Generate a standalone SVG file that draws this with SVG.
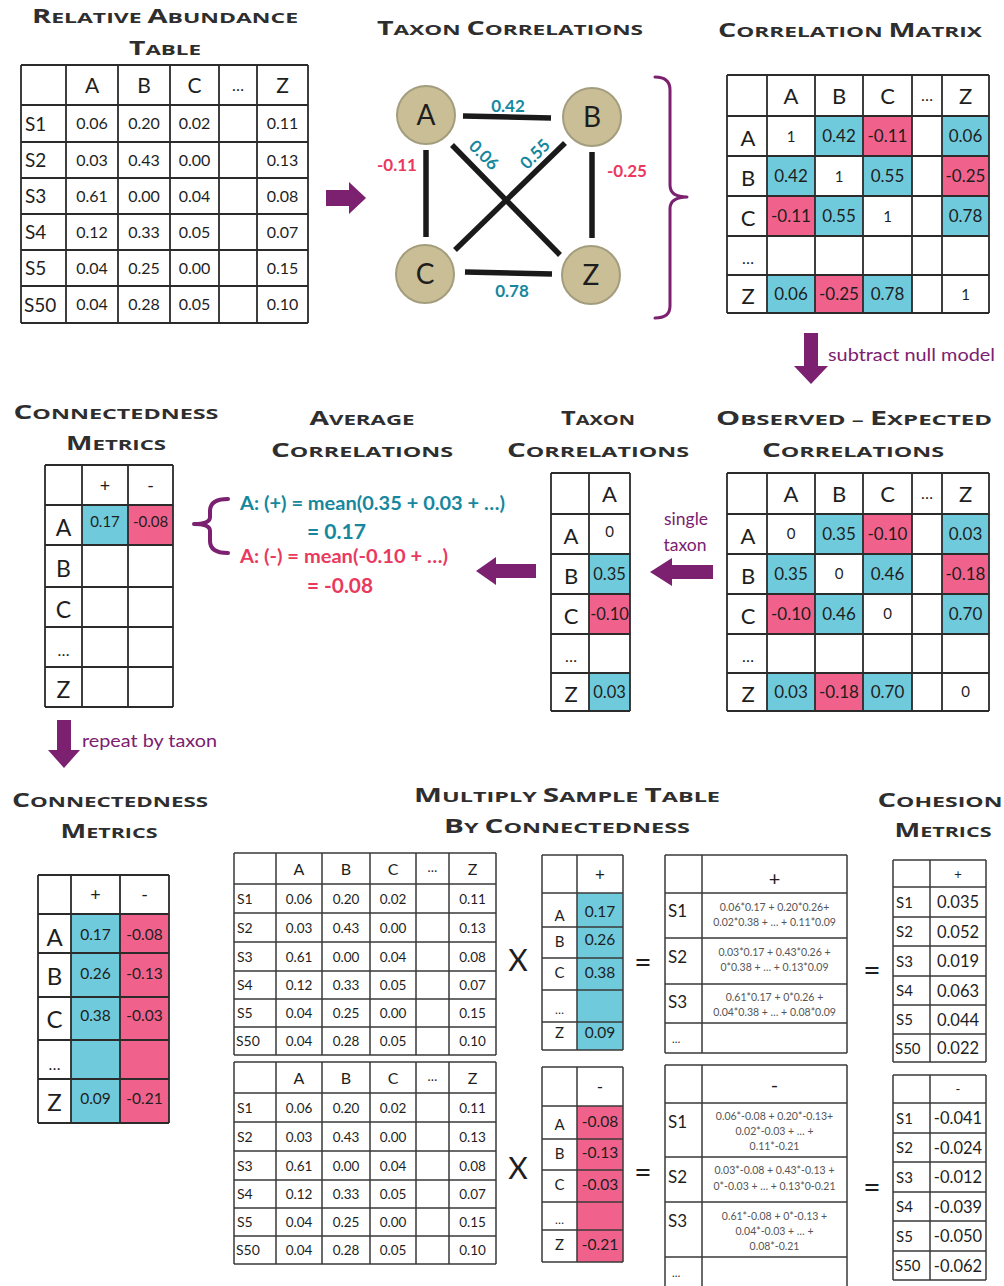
<svg xmlns="http://www.w3.org/2000/svg" width="1004" height="1286" viewBox="0 0 1004 1286">
<style>
text { font-family: Lato, "Open Sans", "DejaVu Sans", sans-serif; fill:#1e1e1e; }
.ttl { font-family: "Open Sans", "DejaVu Sans", sans-serif; font-weight:700; font-size:15px; fill:#2e2e2e; text-anchor:middle; }
.ttl tspan.b { font-size:19px; }
.c { text-anchor:middle; }
.grid { fill:none; stroke:#2b2b2b; stroke-width:1.8; }
.grid2 { fill:none; stroke:#3a3a3a; stroke-width:1.5; }
.bl { fill:#6fcadc; }
.pk { fill:#f0628c; }
.pur { fill:#7b2170; }
.brace { fill:none; stroke:#7b2170; stroke-linecap:round; stroke-linejoin:round; }
.teal { fill:#16879d; font-weight:bold; }
.red { fill:#e9395f; font-weight:bold; }
.edge { stroke:#1a1a1a; stroke-width:5.5; }
.node { fill:#c9be96; stroke:#a39d7d; stroke-width:2; }
.f { font-size:10.5px; fill:#555; text-anchor:middle; }
</style>

<!-- Titles -->
<g id="titles">
<text class="ttl" x="165" y="23" textLength="266" lengthAdjust="spacingAndGlyphs"><tspan class="b">R</tspan>ELATIVE <tspan class="b">A</tspan>BUNDANCE</text>
<text class="ttl" x="165" y="55" textLength="72" lengthAdjust="spacingAndGlyphs"><tspan class="b">T</tspan>ABLE</text>
<text class="ttl" x="510" y="35" textLength="266" lengthAdjust="spacingAndGlyphs"><tspan class="b">T</tspan>AXON <tspan class="b">C</tspan>ORRELATIONS</text>
<text class="ttl" x="850" y="37" textLength="264" lengthAdjust="spacingAndGlyphs"><tspan class="b">C</tspan>ORRELATION <tspan class="b">M</tspan>ATRIX</text>
<text class="ttl" x="854" y="425" textLength="276" lengthAdjust="spacingAndGlyphs"><tspan class="b">O</tspan>BSERVED – <tspan class="b">E</tspan>XPECTED</text>
<text class="ttl" x="853" y="457" textLength="182" lengthAdjust="spacingAndGlyphs"><tspan class="b">C</tspan>ORRELATIONS</text>
<text class="ttl" x="598" y="425" textLength="74" lengthAdjust="spacingAndGlyphs"><tspan class="b">T</tspan>AXON</text>
<text class="ttl" x="598" y="457" textLength="182" lengthAdjust="spacingAndGlyphs"><tspan class="b">C</tspan>ORRELATIONS</text>
<text class="ttl" x="362" y="425" textLength="105" lengthAdjust="spacingAndGlyphs"><tspan class="b">A</tspan>VERAGE</text>
<text class="ttl" x="362" y="457" textLength="182" lengthAdjust="spacingAndGlyphs"><tspan class="b">C</tspan>ORRELATIONS</text>
<text class="ttl" x="116" y="419" textLength="205" lengthAdjust="spacingAndGlyphs"><tspan class="b">C</tspan>ONNECTEDNESS</text>
<text class="ttl" x="116" y="450" textLength="100" lengthAdjust="spacingAndGlyphs"><tspan class="b">M</tspan>ETRICS</text>
<text class="ttl" x="110" y="807" textLength="196" lengthAdjust="spacingAndGlyphs"><tspan class="b">C</tspan>ONNECTEDNESS</text>
<text class="ttl" x="109" y="838" textLength="97" lengthAdjust="spacingAndGlyphs"><tspan class="b">M</tspan>ETRICS</text>
<text class="ttl" x="567" y="802" textLength="306" lengthAdjust="spacingAndGlyphs"><tspan class="b">M</tspan>ULTIPLY <tspan class="b">S</tspan>AMPLE <tspan class="b">T</tspan>ABLE</text>
<text class="ttl" x="567" y="833" textLength="246" lengthAdjust="spacingAndGlyphs"><tspan class="b">B</tspan>Y <tspan class="b">C</tspan>ONNECTEDNESS</text>
<text class="ttl" x="940" y="807" textLength="125" lengthAdjust="spacingAndGlyphs"><tspan class="b">C</tspan>OHESION</text>
<text class="ttl" x="943" y="837" textLength="97" lengthAdjust="spacingAndGlyphs"><tspan class="b">M</tspan>ETRICS</text>
</g>

<!-- Relative abundance table -->
<g id="rel-abundance-table">
<rect x="21" y="65" width="287" height="258" fill="#fff"/>
<path class="grid" d="M21,65H308M21,105H308M21,142H308M21,178H308M21,214H308M21,250H308M21,286H308M21,323H308M21,65V323M66,65V323M118,65V323M170,65V323M219,65V323M257,65V323M308,65V323"/>
<g font-size="21">
<text class="c" x="92" y="93">A</text><text class="c" x="144" y="93">B</text><text class="c" x="194.5" y="93">C</text><text class="c" x="238" y="91" font-size="16">…</text><text class="c" x="282.5" y="93">Z</text>
</g>
<g font-size="19">
<text x="25" y="130.5">S1</text><text x="25" y="167">S2</text><text x="25" y="203">S3</text><text x="25" y="239">S4</text><text x="25" y="275">S5</text><text x="24" y="311.5">S50</text>
</g>
<g font-size="16" fill="#333">
<text class="c" x="92" y="129">0.06</text><text class="c" x="144" y="129">0.20</text><text class="c" x="194.5" y="129">0.02</text><text class="c" x="282.5" y="129">0.11</text>
<text class="c" x="92" y="165.5">0.03</text><text class="c" x="144" y="165.5">0.43</text><text class="c" x="194.5" y="165.5">0.00</text><text class="c" x="282.5" y="165.5">0.13</text>
<text class="c" x="92" y="201.5">0.61</text><text class="c" x="144" y="201.5">0.00</text><text class="c" x="194.5" y="201.5">0.04</text><text class="c" x="282.5" y="201.5">0.08</text>
<text class="c" x="92" y="237.5">0.12</text><text class="c" x="144" y="237.5">0.33</text><text class="c" x="194.5" y="237.5">0.05</text><text class="c" x="282.5" y="237.5">0.07</text>
<text class="c" x="92" y="273.5">0.04</text><text class="c" x="144" y="273.5">0.25</text><text class="c" x="194.5" y="273.5">0.00</text><text class="c" x="282.5" y="273.5">0.15</text>
<text class="c" x="92" y="310">0.04</text><text class="c" x="144" y="310">0.28</text><text class="c" x="194.5" y="310">0.05</text><text class="c" x="282.5" y="310">0.10</text>
</g>
</g>

<!-- Network -->
<g id="network-edges">
<line class="edge" x1="463" y1="116" x2="551" y2="118"/>
<line class="edge" x1="465" y1="272" x2="552" y2="274"/>
<line class="edge" x1="426" y1="150" x2="426" y2="237"/>
<line class="edge" x1="592" y1="152" x2="592" y2="238"/>
<line class="edge" x1="452" y1="145" x2="560" y2="255"/>
<line class="edge" x1="565" y1="143" x2="455" y2="250"/>
<text class="c teal" x="508" y="112" font-size="17">0.42</text>
<text class="c teal" x="512" y="297" font-size="17">0.78</text>
<text class="c red" x="397" y="171" font-size="17">-0.11</text>
<text class="c red" x="627" y="177" font-size="17">-0.25</text>
<text class="c teal" font-size="17" transform="translate(484,155) rotate(45)" y="6">0.06</text>
<text class="c teal" font-size="17" transform="translate(535,154) rotate(-45)" y="6">0.55</text>
</g>
<g id="node-A"><circle class="node" cx="426" cy="115" r="29"/><text class="c" x="426" y="125" font-size="28">A</text></g>
<g id="node-B"><circle class="node" cx="592" cy="117" r="29"/><text class="c" x="592" y="127" font-size="28">B</text></g>
<g id="node-C"><circle class="node" cx="425" cy="274" r="29"/><text class="c" x="425" y="284" font-size="28">C</text></g>
<g id="node-Z"><circle class="node" cx="591" cy="275" r="29"/><text class="c" x="591" y="285" font-size="28">Z</text></g>

<!-- Connectors / arrows / braces -->
<g id="connectors">
<polygon class="pur" points="326,190 349,190 349,182 366,198 349,214 349,206 326,206"/>
<path class="brace" stroke-width="3" d="M655,77 Q670,77 670,90 L670,185 Q670,197 687,197 Q670,197 670,209 L670,306 Q670,318 655,318"/>
<polygon class="pur" points="804,333 818,333 818,366 828,366 811,384 794,366 804,366"/>
<text x="828" y="361" font-size="17.5" style="fill:#7b2170" textLength="167" lengthAdjust="spacingAndGlyphs">subtract null model</text>
<polygon class="pur" points="713,565 672,565 672,558 650,572 672,586 672,579 713,579"/>
<text class="c" x="686" y="525" font-size="17.5" style="fill:#7b2170">single</text>
<text class="c" x="685" y="551" font-size="17.5" style="fill:#7b2170">taxon</text>
<polygon class="pur" points="536,564 496,564 496,557 476,571 496,585 496,578 536,578"/>
<path class="brace" stroke-width="4" d="M228,499 Q210,499 210,511 L210,517 Q210,524 194,524 Q210,524 210,531 L210,541 Q210,553 228,553"/>
<polygon class="pur" points="57,720 71,720 71,750 80,750 64,768 48,750 57,750"/>
<text x="82" y="747" font-size="17.5" style="fill:#7b2170" textLength="135" lengthAdjust="spacingAndGlyphs">repeat by taxon</text>
<g font-size="30" fill="#222">
<text class="c" x="518" y="971">X</text>
<text class="c" x="518" y="1179">X</text>
<text class="c" x="643" y="973">=</text>
<text class="c" x="643" y="1183">=</text>
<text class="c" x="872" y="981">=</text>
<text class="c" x="872" y="1198">=</text>
</g>
</g>

<!-- Correlation matrix -->
<g id="correlation-matrix">
<rect x="727" y="75" width="262" height="238" fill="#fff"/>
<rect class="bl" x="815" y="116" width="48" height="40"/><rect class="pk" x="863" y="116" width="49" height="40"/><rect class="bl" x="942" y="116" width="47" height="40"/>
<rect class="bl" x="767" y="156" width="48" height="40"/><rect class="bl" x="863" y="156" width="49" height="40"/><rect class="pk" x="942" y="156" width="47" height="40"/>
<rect class="pk" x="767" y="196" width="48" height="40"/><rect class="bl" x="815" y="196" width="48" height="40"/><rect class="bl" x="942" y="196" width="47" height="40"/>
<rect class="bl" x="767" y="275" width="48" height="38"/><rect class="pk" x="815" y="275" width="48" height="38"/><rect class="bl" x="863" y="275" width="49" height="38"/>
<path class="grid" d="M727,75H989M727,116H989M727,156H989M727,196H989M727,236H989M727,275H989M727,313H989M727,75V313M767,75V313M815,75V313M863,75V313M912,75V313M942,75V313M989,75V313"/>
<g font-size="22">
<text class="c" x="791" y="104">A</text><text class="c" x="839" y="104">B</text><text class="c" x="887.5" y="104">C</text><text class="c" x="927" y="101" font-size="16">…</text><text class="c" x="965.5" y="104">Z</text>
<text class="c" x="748" y="146">A</text><text class="c" x="748" y="186">B</text><text class="c" x="748" y="226">C</text><text class="c" x="748" y="264" font-size="16">…</text><text class="c" x="748" y="304">Z</text>
</g>
<g font-size="17" fill="#222">
<text class="c" x="791" y="142" font-size="15">1</text><text class="c" x="839" y="142">0.42</text><text class="c" x="887.5" y="142">-0.11</text><text class="c" x="965.5" y="142">0.06</text>
<text class="c" x="791" y="182">0.42</text><text class="c" x="839" y="182" font-size="15">1</text><text class="c" x="887.5" y="182">0.55</text><text class="c" x="965.5" y="182">-0.25</text>
<text class="c" x="791" y="222">-0.11</text><text class="c" x="839" y="222">0.55</text><text class="c" x="887.5" y="222" font-size="15">1</text><text class="c" x="965.5" y="222">0.78</text>
<text class="c" x="791" y="300">0.06</text><text class="c" x="839" y="300">-0.25</text><text class="c" x="887.5" y="300">0.78</text><text class="c" x="965.5" y="300" font-size="15">1</text>
</g>
</g>

<!-- Observed - Expected matrix -->
<g id="observed-expected-matrix" transform="translate(0,398)">
<rect x="727" y="75" width="262" height="238" fill="#fff"/>
<rect class="bl" x="815" y="116" width="48" height="40"/><rect class="pk" x="863" y="116" width="49" height="40"/><rect class="bl" x="942" y="116" width="47" height="40"/>
<rect class="bl" x="767" y="156" width="48" height="40"/><rect class="bl" x="863" y="156" width="49" height="40"/><rect class="pk" x="942" y="156" width="47" height="40"/>
<rect class="pk" x="767" y="196" width="48" height="40"/><rect class="bl" x="815" y="196" width="48" height="40"/><rect class="bl" x="942" y="196" width="47" height="40"/>
<rect class="bl" x="767" y="275" width="48" height="38"/><rect class="pk" x="815" y="275" width="48" height="38"/><rect class="bl" x="863" y="275" width="49" height="38"/>
<path class="grid" d="M727,75H989M727,116H989M727,156H989M727,196H989M727,236H989M727,275H989M727,313H989M727,75V313M767,75V313M815,75V313M863,75V313M912,75V313M942,75V313M989,75V313"/>
<g font-size="22">
<text class="c" x="791" y="104">A</text><text class="c" x="839" y="104">B</text><text class="c" x="887.5" y="104">C</text><text class="c" x="927" y="101" font-size="16">…</text><text class="c" x="965.5" y="104">Z</text>
<text class="c" x="748" y="146">A</text><text class="c" x="748" y="186">B</text><text class="c" x="748" y="226">C</text><text class="c" x="748" y="264" font-size="16">…</text><text class="c" x="748" y="304">Z</text>
</g>
<g font-size="17" fill="#222">
<text class="c" x="791" y="141" font-size="15">0</text><text class="c" x="839" y="142">0.35</text><text class="c" x="887.5" y="142">-0.10</text><text class="c" x="965.5" y="142">0.03</text>
<text class="c" x="791" y="182">0.35</text><text class="c" x="839" y="181" font-size="15">0</text><text class="c" x="887.5" y="182">0.46</text><text class="c" x="965.5" y="182">-0.18</text>
<text class="c" x="791" y="222">-0.10</text><text class="c" x="839" y="222">0.46</text><text class="c" x="887.5" y="221" font-size="15">0</text><text class="c" x="965.5" y="222">0.70</text>
<text class="c" x="791" y="300">0.03</text><text class="c" x="839" y="300">-0.18</text><text class="c" x="887.5" y="300">0.70</text><text class="c" x="965.5" y="299" font-size="15">0</text>
</g>
</g>

<!-- Single taxon correlations -->
<g id="taxon-correlations-column" transform="translate(0,398)">
<rect x="551" y="75" width="79" height="238" fill="#fff"/>
<rect class="bl" x="589" y="156" width="41" height="40"/>
<rect class="pk" x="589" y="196" width="41" height="40"/>
<rect class="bl" x="589" y="275" width="41" height="38"/>
<path class="grid" d="M551,75H630M551,116H630M551,156H630M551,196H630M551,236H630M551,275H630M551,313H630M551,75V313M589,75V313M630,75V313"/>
<g font-size="22">
<text class="c" x="609.5" y="104">A</text>
<text class="c" x="571" y="146">A</text><text class="c" x="571" y="186">B</text><text class="c" x="571" y="226">C</text><text class="c" x="571" y="264" font-size="16">…</text><text class="c" x="571" y="304">Z</text>
</g>
<g font-size="16.5" fill="#222">
<text class="c" x="609.5" y="139" font-size="15">0</text>
<text class="c" x="609.5" y="182">0.35</text>
<text class="c" x="609.5" y="222">-0.10</text>
<text class="c" x="609.5" y="300">0.03</text>
</g>
</g>

<!-- Average correlation formulas -->
<g id="average-correlations">
<text class="teal" x="240" y="510" font-size="18.5" textLength="265" lengthAdjust="spacingAndGlyphs">A: (+) = mean(0.35 + 0.03 + …)</text>
<text class="teal" x="307" y="539" font-size="21" textLength="59" lengthAdjust="spacingAndGlyphs">= 0.17</text>
<text class="red" x="240" y="563" font-size="18.5" textLength="208" lengthAdjust="spacingAndGlyphs">A: (-) = mean(-0.10 + …)</text>
<text class="red" x="307" y="593" font-size="21" textLength="66" lengthAdjust="spacingAndGlyphs">= -0.08</text>
</g>

<!-- Connectedness metrics (single taxon) -->
<g id="connectedness-single">
<rect x="45" y="465" width="128" height="242" fill="#fff"/>
<rect class="bl" x="82" y="505" width="46" height="40"/>
<rect class="pk" x="128" y="505" width="45" height="40"/>
<path class="grid" d="M45,465H173M45,505H173M45,545H173M45,587H173M45,627H173M45,667H173M45,707H173M45,465V707M82,465V707M128,465V707M173,465V707"/>
<text class="c" x="105" y="492" font-size="18">+</text><text class="c" x="150.5" y="492" font-size="18">-</text>
<g font-size="23">
<text class="c" x="63.5" y="536">A</text><text class="c" x="63.5" y="577">B</text><text class="c" x="63.5" y="618">C</text><text class="c" x="63.5" y="656" font-size="16">…</text><text class="c" x="63.5" y="698">Z</text>
</g>
<text class="c" x="105" y="527" font-size="15">0.17</text><text class="c" x="150.5" y="527" font-size="15">-0.08</text>
</g>

<!-- Connectedness metrics (all taxa) -->
<g id="connectedness-all">
<rect x="38" y="875" width="131" height="248" fill="#fff"/>
<rect class="bl" x="71" y="914" width="49" height="209"/>
<rect class="pk" x="120" y="914" width="49" height="209"/>
<path class="grid" d="M38,875H169M38,914H169M38,953H169M38,997H169M38,1040H169M38,1079H169M38,1123H169M38,875V1123M71,875V1123M120,875V1123M169,875V1123"/>
<text class="c" x="95.5" y="901" font-size="18">+</text><text class="c" x="144.5" y="901" font-size="18">-</text>
<g font-size="24">
<text class="c" x="54.5" y="946">A</text><text class="c" x="54.5" y="985">B</text><text class="c" x="54.5" y="1028">C</text><text class="c" x="54.5" y="1070" font-size="16">…</text><text class="c" x="54.5" y="1111">Z</text>
</g>
<g font-size="15.5" fill="#222">
<text class="c" x="95.5" y="940">0.17</text><text class="c" x="144.5" y="940">-0.08</text>
<text class="c" x="95.5" y="979">0.26</text><text class="c" x="144.5" y="979">-0.13</text>
<text class="c" x="95.5" y="1021">0.38</text><text class="c" x="144.5" y="1021">-0.03</text>
<text class="c" x="95.5" y="1104">0.09</text><text class="c" x="144.5" y="1104">-0.21</text>
</g>
</g>

<!-- Sample tables -->
<g id="sample-table-plus">
<rect x="234" y="853" width="262" height="202" fill="#fff"/>
<path class="grid2" d="M234,853H496M234,884H496M234,913H496M234,942H496M234,971H496M234,999H496M234,1027H496M234,1055H496M234,853V1055M276,853V1055M322,853V1055M370,853V1055M416,853V1055M449,853V1055M496,853V1055"/>
<g font-size="16">
<text class="c" x="299" y="874.5">A</text><text class="c" x="346" y="874.5">B</text><text class="c" x="393" y="874.5">C</text><text class="c" x="432.5" y="872" font-size="13">…</text><text class="c" x="472.5" y="874.5">Z</text>
</g>
<g font-size="14">
<text x="237" y="903.5">S1</text><text x="237" y="932.5">S2</text><text x="237" y="961.5">S3</text><text x="237" y="990">S4</text><text x="237" y="1018">S5</text><text x="236" y="1046">S50</text>
</g>
<g font-size="13.5" fill="#333">
<text class="c" x="299" y="903.5">0.06</text><text class="c" x="346" y="903.5">0.20</text><text class="c" x="393" y="903.5">0.02</text><text class="c" x="472.5" y="903.5">0.11</text>
<text class="c" x="299" y="932.5">0.03</text><text class="c" x="346" y="932.5">0.43</text><text class="c" x="393" y="932.5">0.00</text><text class="c" x="472.5" y="932.5">0.13</text>
<text class="c" x="299" y="961.5">0.61</text><text class="c" x="346" y="961.5">0.00</text><text class="c" x="393" y="961.5">0.04</text><text class="c" x="472.5" y="961.5">0.08</text>
<text class="c" x="299" y="990">0.12</text><text class="c" x="346" y="990">0.33</text><text class="c" x="393" y="990">0.05</text><text class="c" x="472.5" y="990">0.07</text>
<text class="c" x="299" y="1018">0.04</text><text class="c" x="346" y="1018">0.25</text><text class="c" x="393" y="1018">0.00</text><text class="c" x="472.5" y="1018">0.15</text>
<text class="c" x="299" y="1046">0.04</text><text class="c" x="346" y="1046">0.28</text><text class="c" x="393" y="1046">0.05</text><text class="c" x="472.5" y="1046">0.10</text>
</g>
</g>

<g id="sample-table-minus" transform="translate(0,209)">
<rect x="234" y="853" width="262" height="202" fill="#fff"/>
<path class="grid2" d="M234,853H496M234,884H496M234,913H496M234,942H496M234,971H496M234,999H496M234,1027H496M234,1055H496M234,853V1055M276,853V1055M322,853V1055M370,853V1055M416,853V1055M449,853V1055M496,853V1055"/>
<g font-size="16">
<text class="c" x="299" y="874.5">A</text><text class="c" x="346" y="874.5">B</text><text class="c" x="393" y="874.5">C</text><text class="c" x="432.5" y="872" font-size="13">…</text><text class="c" x="472.5" y="874.5">Z</text>
</g>
<g font-size="14">
<text x="237" y="903.5">S1</text><text x="237" y="932.5">S2</text><text x="237" y="961.5">S3</text><text x="237" y="990">S4</text><text x="237" y="1018">S5</text><text x="236" y="1046">S50</text>
</g>
<g font-size="13.5" fill="#333">
<text class="c" x="299" y="903.5">0.06</text><text class="c" x="346" y="903.5">0.20</text><text class="c" x="393" y="903.5">0.02</text><text class="c" x="472.5" y="903.5">0.11</text>
<text class="c" x="299" y="932.5">0.03</text><text class="c" x="346" y="932.5">0.43</text><text class="c" x="393" y="932.5">0.00</text><text class="c" x="472.5" y="932.5">0.13</text>
<text class="c" x="299" y="961.5">0.61</text><text class="c" x="346" y="961.5">0.00</text><text class="c" x="393" y="961.5">0.04</text><text class="c" x="472.5" y="961.5">0.08</text>
<text class="c" x="299" y="990">0.12</text><text class="c" x="346" y="990">0.33</text><text class="c" x="393" y="990">0.05</text><text class="c" x="472.5" y="990">0.07</text>
<text class="c" x="299" y="1018">0.04</text><text class="c" x="346" y="1018">0.25</text><text class="c" x="393" y="1018">0.00</text><text class="c" x="472.5" y="1018">0.15</text>
<text class="c" x="299" y="1046">0.04</text><text class="c" x="346" y="1046">0.28</text><text class="c" x="393" y="1046">0.05</text><text class="c" x="472.5" y="1046">0.10</text>
</g>
</g>

<!-- Connectedness vectors -->
<g id="vector-plus">
<rect x="542" y="855" width="81" height="195" fill="#fff"/>
<rect class="bl" x="577" y="893" width="46" height="157"/>
<path class="grid2" d="M542,855H623M542,893H623M542,927H623M542,958H623M542,990H623M542,1022H623M542,1050H623M542,855V1050M577,855V1050M623,855V1050"/>
<text class="c" x="600" y="881" font-size="17">+</text>
<g font-size="15">
<text class="c" x="559.5" y="921">A</text><text class="c" x="559.5" y="947">B</text><text class="c" x="559.5" y="978">C</text><text class="c" x="559.5" y="1014" font-size="12">…</text><text class="c" x="559.5" y="1038">Z</text>
</g>
<g font-size="15.5" fill="#222">
<text class="c" x="600" y="917">0.17</text><text class="c" x="600" y="945">0.26</text><text class="c" x="600" y="978">0.38</text><text class="c" x="600" y="1038">0.09</text>
</g>
</g>

<g id="vector-minus">
<rect x="542" y="1067" width="81" height="195" fill="#fff"/>
<rect class="pk" x="577" y="1106" width="46" height="156"/>
<path class="grid2" d="M542,1067H623M542,1106H623M542,1139H623M542,1170H623M542,1202H623M542,1230H623M542,1262H623M542,1067V1262M577,1067V1262M623,1067V1262"/>
<text class="c" x="600" y="1093" font-size="17">-</text>
<g font-size="15">
<text class="c" x="559.5" y="1130">A</text><text class="c" x="559.5" y="1159">B</text><text class="c" x="559.5" y="1190">C</text><text class="c" x="559.5" y="1224" font-size="12">…</text><text class="c" x="559.5" y="1250">Z</text>
</g>
<g font-size="15.5" fill="#222">
<text class="c" x="600" y="1127">-0.08</text><text class="c" x="600" y="1158">-0.13</text><text class="c" x="600" y="1190">-0.03</text><text class="c" x="600" y="1250">-0.21</text>
</g>
</g>

<!-- Result formula tables -->
<g id="products-plus">
<rect x="665" y="855" width="182" height="198" fill="#fff"/>
<path class="grid2" d="M665,855H847M665,893H847M665,938H847M665,984H847M665,1023H847M665,1053H847M665,855V1053M702,855V1053M847,855V1053"/>
<text class="c" x="774.5" y="886" font-size="20">+</text>
<g font-size="17">
<text x="668" y="917">S1</text><text x="668" y="963">S2</text><text x="668" y="1008">S3</text><text x="672" y="1043" font-size="11" fill="#555">…</text>
</g>
<text class="f" x="774.5" y="911">0.06*0.17 + 0.20*0.26+</text>
<text class="f" x="774.5" y="926">0.02*0.38 + … + 0.11*0.09</text>
<text class="f" x="774.5" y="956">0.03*0.17 + 0.43*0.26 +</text>
<text class="f" x="774.5" y="971">0*0.38 + … + 0.13*0.09</text>
<text class="f" x="774.5" y="1001">0.61*0.17 + 0*0.26 +</text>
<text class="f" x="774.5" y="1016">0.04*0.38 + … + 0.08*0.09</text>
</g>

<g id="products-minus">
<rect x="665" y="1065" width="182" height="230" fill="#fff"/>
<path class="grid2" d="M665,1065H847M665,1103H847M665,1157H847M665,1202H847M665,1257H847M665,1065V1290M702,1065V1290M847,1065V1290"/>
<text class="c" x="774.5" y="1092" font-size="20">-</text>
<g font-size="17">
<text x="668" y="1128">S1</text><text x="668" y="1183">S2</text><text x="668" y="1227">S3</text><text x="672" y="1277" font-size="11" fill="#555">…</text>
</g>
<text class="f" x="774.5" y="1120">0.06*-0.08 + 0.20*-0.13+</text>
<text class="f" x="774.5" y="1135">0.02*-0.03 + … +</text>
<text class="f" x="774.5" y="1150">0.11*-0.21</text>
<text class="f" x="774.5" y="1174">0.03*-0.08 + 0.43*-0.13 +</text>
<text class="f" x="774.5" y="1190">0*-0.03 + … + 0.13*0-0.21</text>
<text class="f" x="774.5" y="1220">0.61*-0.08 + 0*-0.13 +</text>
<text class="f" x="774.5" y="1235">0.04*-0.03 + … +</text>
<text class="f" x="774.5" y="1250">0.08*-0.21</text>
</g>

<!-- Cohesion metrics -->
<g id="cohesion-plus">
<rect x="893" y="860" width="93" height="202" fill="#fff"/>
<path class="grid2" d="M893,860H986M893,887H986M893,917H986M893,946H986M893,976H986M893,1005H986M893,1034H986M893,1062H986M893,860V1062M930,860V1062M986,860V1062"/>
<text class="c" x="958" y="879" font-size="13">+</text>
<g font-size="15">
<text x="896" y="907.5">S1</text><text x="896" y="937">S2</text><text x="896" y="966.5">S3</text><text x="896" y="996">S4</text><text x="896" y="1025">S5</text><text x="895" y="1053.5">S50</text>
</g>
<g font-size="16.5" fill="#222">
<text class="c" x="958" y="908">0.035</text><text class="c" x="958" y="937.5">0.052</text><text class="c" x="958" y="967">0.019</text><text class="c" x="958" y="996.5">0.063</text><text class="c" x="958" y="1025.5">0.044</text><text class="c" x="958" y="1054">0.022</text>
</g>
</g>

<g id="cohesion-minus">
<rect x="893" y="1075" width="93" height="205" fill="#fff"/>
<path class="grid2" d="M893,1075H986M893,1103H986M893,1133H986M893,1162H986M893,1192H986M893,1221H986M893,1251H986M893,1280H986M893,1075V1280M930,1075V1280M986,1075V1280"/>
<text class="c" x="958" y="1094" font-size="13">-</text>
<g font-size="15">
<text x="896" y="1123.5">S1</text><text x="896" y="1153">S2</text><text x="896" y="1182.5">S3</text><text x="896" y="1212">S4</text><text x="896" y="1241.5">S5</text><text x="895" y="1271">S50</text>
</g>
<g font-size="16.5" fill="#222">
<text class="c" x="958" y="1124">-0.041</text><text class="c" x="958" y="1153.5">-0.024</text><text class="c" x="958" y="1183">-0.012</text><text class="c" x="958" y="1212.5">-0.039</text><text class="c" x="958" y="1242">-0.050</text><text class="c" x="958" y="1271.5">-0.062</text>
</g>
</g>
</svg>
